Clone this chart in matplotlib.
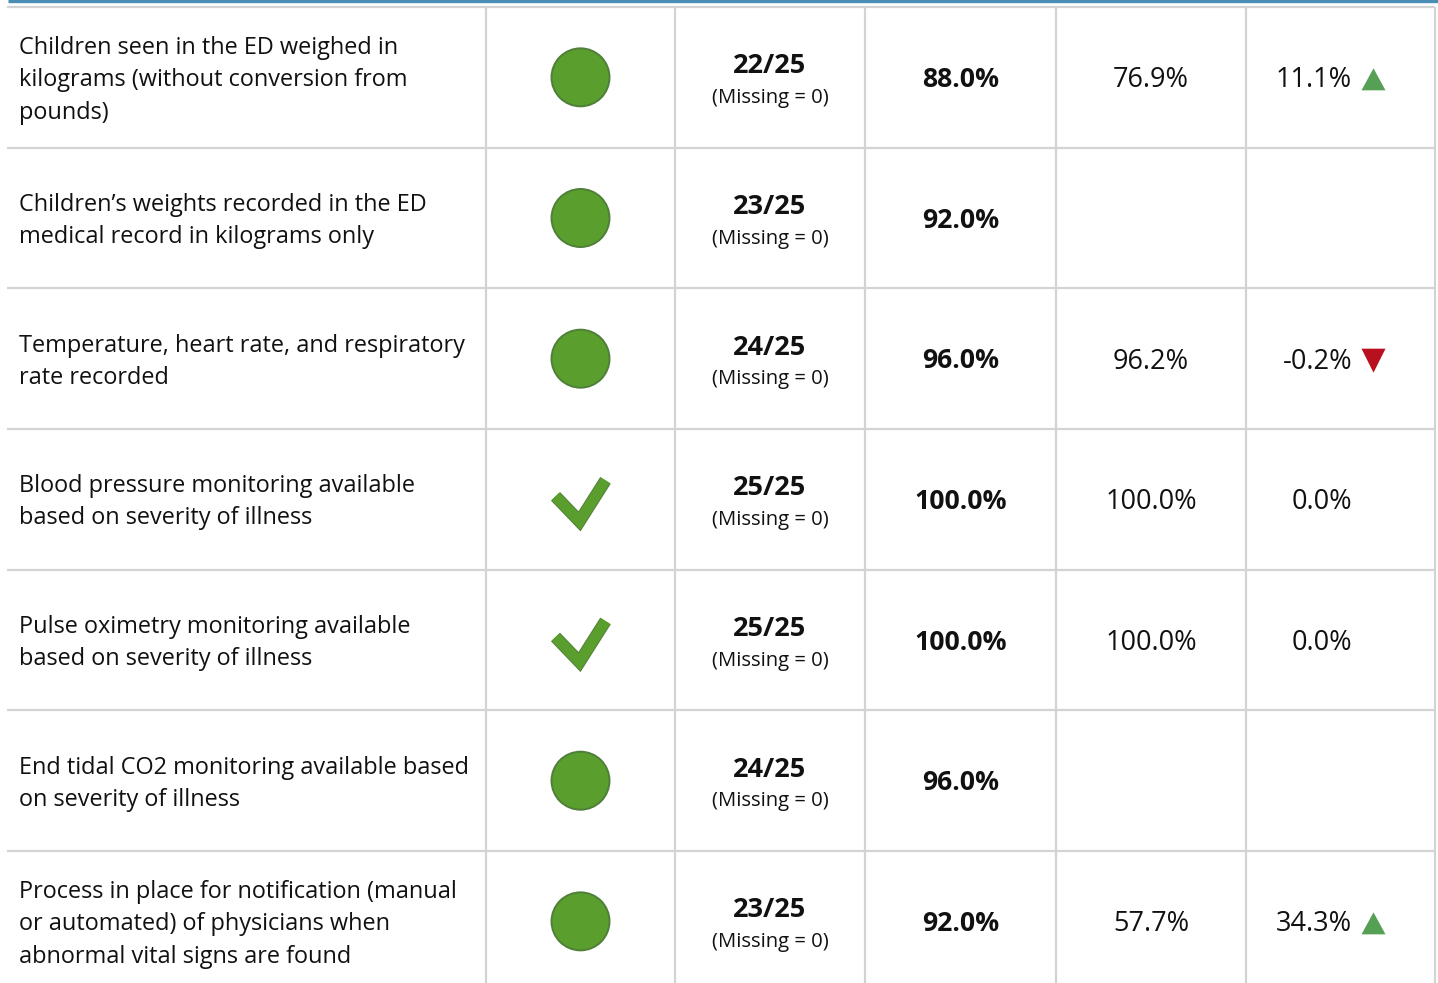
import matplotlib
matplotlib.use("Agg")
import matplotlib.pyplot as plt
from matplotlib.patches import Circle, Polygon
from matplotlib.lines import Line2D

plt.rcParams['font.family'] = ['Open Sans', 'Noto Sans', 'DejaVu Sans']

# ---------------- data ----------------
measures = [
    "Children seen in the ED weighed in\nkilograms (without conversion from\npounds)",
    "Children\u2019s weights recorded in the ED\nmedical record in kilograms only",
    "Temperature, heart rate, and respiratory\nrate recorded",
    "Blood pressure monitoring available\nbased on severity of illness",
    "Pulse oximetry monitoring available\nbased on severity of illness",
    "End tidal CO2 monitoring available based\non severity of illness",
    "Process in place for notification (manual\nor automated) of physicians when\nabnormal vital signs are found",
]
status = ["circle", "circle", "circle", "check", "check", "circle", "circle"]
numerators = [22, 23, 24, 25, 25, 24, 23]
denominators = [25, 25, 25, 25, 25, 25, 25]
missing = [0, 0, 0, 0, 0, 0, 0]
current_pct = [88.0, 92.0, 96.0, 100.0, 100.0, 96.0, 92.0]
previous_pct = [76.9, None, 96.2, 100.0, 100.0, None, 57.7]
change_pct = [11.1, None, -0.2, 0.0, 0.0, None, 34.3]

# ---------------- layout ----------------
W, H = 1438, 983
fig = plt.figure(figsize=(W / 100, H / 100), dpi=100)
ax = fig.add_axes([0, 0, 1, 1])
ax.set_xlim(0, W)
ax.set_ylim(H, 0)
ax.axis('off')

top = 7
row_h = 140.67
col_edges = [7, 486, 675, 865, 1056, 1246, 1435]
grid_color = '#d3d3d3'
text_color = '#111111'
green = '#5a9f2e'
green_edge = '#4f7f38'
tri_green = '#55a055'
tri_red = '#b8101f'

# top blue rule
ax.plot([8, W], [1.2, 1.2], color='#4b8db4', lw=2.4, solid_capstyle='butt')

n = len(measures)
for i in range(n + 1):
    y = top + i * row_h
    if y <= H:
        ax.plot([col_edges[0], col_edges[-1]], [y, y], color=grid_color, lw=1.6,
                solid_capstyle='butt')
for x in col_edges[1:]:
    ax.plot([x, x], [top, H], color=grid_color, lw=1.6, solid_capstyle='butt')

line_gap = 32.3
cx = [(col_edges[k] + col_edges[k + 1]) / 2 for k in range(len(col_edges) - 1)]

for i in range(n):
    yc = top + (i + 0.5) * row_h
    lines = measures[i].split("\n")
    y0 = yc - (len(lines) - 1) * line_gap / 2
    for j, ln in enumerate(lines):
        ax.text(19, y0 + j * line_gap, ln, ha='left', va='center_baseline',
                fontsize=16.9, color=text_color)

    if status[i] == "circle":
        ax.add_patch(Circle((cx[1], yc), 29, facecolor=green, edgecolor=green_edge,
                            lw=1.4, zorder=3))
    else:
        xs = [cx[1] - 25, cx[1] - 1, cx[1] + 25]
        ys = [yc - 3, yc + 22, yc - 19]
        ax.add_line(Line2D(xs, ys, color=green_edge, lw=9.0,
                           solid_capstyle='butt', solid_joinstyle='miter', zorder=3))
        ax.add_line(Line2D(xs, ys, color=green, lw=7.6,
                           solid_capstyle='butt', solid_joinstyle='miter', zorder=4))

    ax.text(cx[2], yc - 14, f"{numerators[i]}/{denominators[i]}", ha='center',
            va='center_baseline', fontsize=19.5, fontweight='bold', color=text_color)
    ax.text(cx[2], yc + 18, f"(Missing = {missing[i]})", ha='center',
            va='center_baseline', fontsize=14.6, color=text_color)

    ax.text(cx[3], yc - 0.5, f"{current_pct[i]:.1f}%", ha='center', va='center_baseline',
            fontsize=19.2, fontweight='bold', color=text_color)

    if previous_pct[i] is not None:
        ax.text(cx[4], yc - 0.5, f"{previous_pct[i]:.1f}%", ha='center',
                va='center_baseline', fontsize=19.5, color=text_color)

    if change_pct[i] is not None:
        ax.text(1352, yc - 0.5, f"{change_pct[i]:.1f}%", ha='right',
                va='center_baseline', fontsize=19.5, color=text_color)
        tx = 1373.5
        if change_pct[i] > 0:
            ax.add_patch(Polygon([[tx - 12, yc + 13], [tx + 12, yc + 13], [tx, yc - 9]],
                                 closed=True, facecolor=tri_green, edgecolor='none'))
        elif change_pct[i] < 0:
            ax.add_patch(Polygon([[tx - 12, yc - 10], [tx + 12, yc - 10], [tx, yc + 14]],
                                 closed=True, facecolor=tri_red, edgecolor='none'))

fig.savefig("out.png", dpi=100, facecolor='white')
